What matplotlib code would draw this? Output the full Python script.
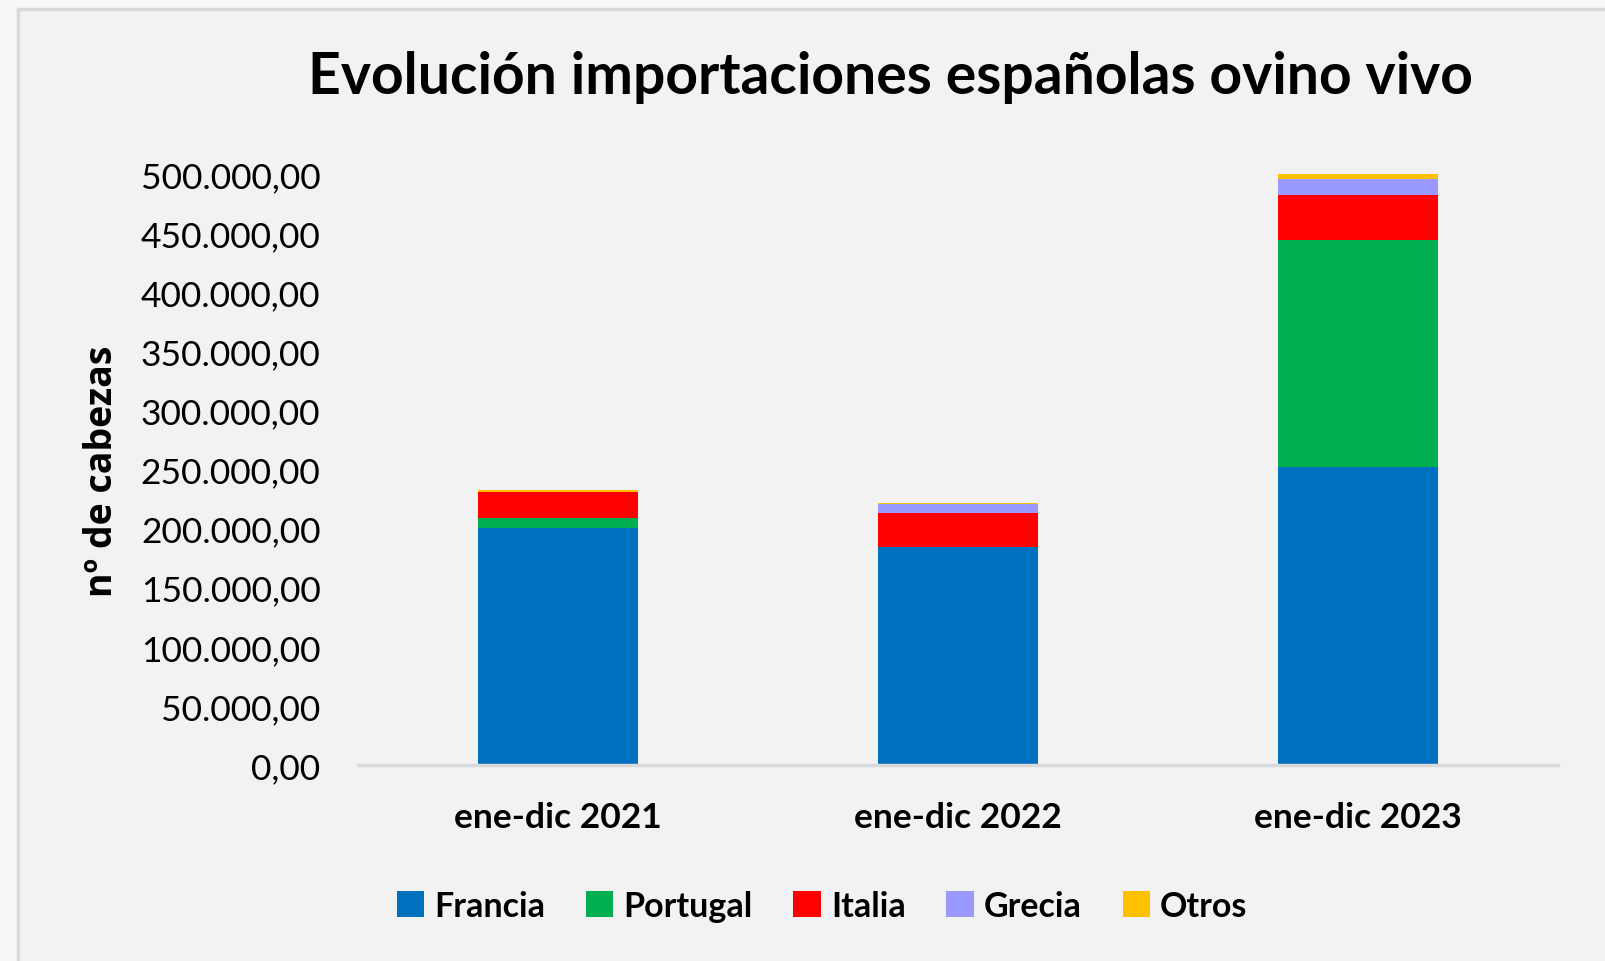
import matplotlib.pyplot as plt
from matplotlib.patches import Rectangle
from matplotlib.ticker import FuncFormatter

# Datos (nº de cabezas)
periodos = ['ene-dic 2021', 'ene-dic 2022', 'ene-dic 2023']
francia = [200300, 184200, 252300]
portugal = [8700, 500, 191900]
italia = [21700, 28500, 38000]
grecia = [500, 7600, 13800]
otros = [1800, 500, 4000]

series = ['Francia', 'Portugal', 'Italia', 'Grecia', 'Otros']
valores = [francia, portugal, italia, grecia, otros]
colores = ['#0070C0', '#00B050', '#FF0000', '#9999FF', '#FFC000']

plt.rcParams['font.family'] = ['Lato', 'DejaVu Sans']

fig = plt.figure(figsize=(16.05, 9.62), dpi=100, facecolor='#F7F7F7')
# marco del gráfico
fig.patches.append(Rectangle((18 / 1605, -0.05), 1.1, 1 - 10 / 962 + 0.05,
                             transform=fig.transFigure, facecolor='#F2F2F2',
                             edgecolor='#D9D9D9', linewidth=2.5, zorder=-10))

ax = fig.add_axes([358 / 1605, 196 / 962, 1200 / 1605, 591 / 962])
ax.patch.set_alpha(0)

x = range(len(periodos))
base = [0] * len(periodos)
for nombre, vals, color in zip(series, valores, colores):
    ax.bar(x, vals, width=0.4, bottom=base, color=color, label=nombre, clip_on=False)
    base = [b + v for b, v in zip(base, vals)]

ax.set_xlim(-0.5, 2.5)
ax.set_ylim(0, 500000)
ax.set_yticks(range(0, 500001, 50000))


def fmt(v, pos):
    return f'{int(v):,}'.replace(',', '.') + ',00'


ax.yaxis.set_major_formatter(FuncFormatter(fmt))
ax.set_xticks(list(x))
ax.set_xticklabels(periodos, fontsize=25.5, fontweight='bold')
ax.tick_params(axis='y', length=0, labelsize=25.5, pad=27)
ax.tick_params(axis='x', length=0, pad=26)

for s in ['top', 'right', 'left']:
    ax.spines[s].set_visible(False)
ax.spines['bottom'].set_color('#D9D9D9')
ax.spines['bottom'].set_linewidth(2.5)

fig.text(102 / 1605, 1 - 471 / 962, 'nº de cabezas', rotation=90, fontsize=27,
         fontweight='bold', ha='center', va='center', family=['Open Sans', 'DejaVu Sans'])
fig.text(890 / 1605, 1 - 77 / 962, 'Evolución importaciones españolas ovino vivo',
         fontsize=41, fontweight='bold', ha='center', va='center')

fig.legend(loc='center', bbox_to_anchor=(822 / 1605, 1 - 907 / 962), ncol=5,
           frameon=False, prop={'size': 24.5, 'weight': 'bold'},
           handlelength=0.8, handleheight=0.8, handletextpad=0.3, columnspacing=1.2)

fig.savefig('out.png', dpi=100, facecolor=fig.get_facecolor())
